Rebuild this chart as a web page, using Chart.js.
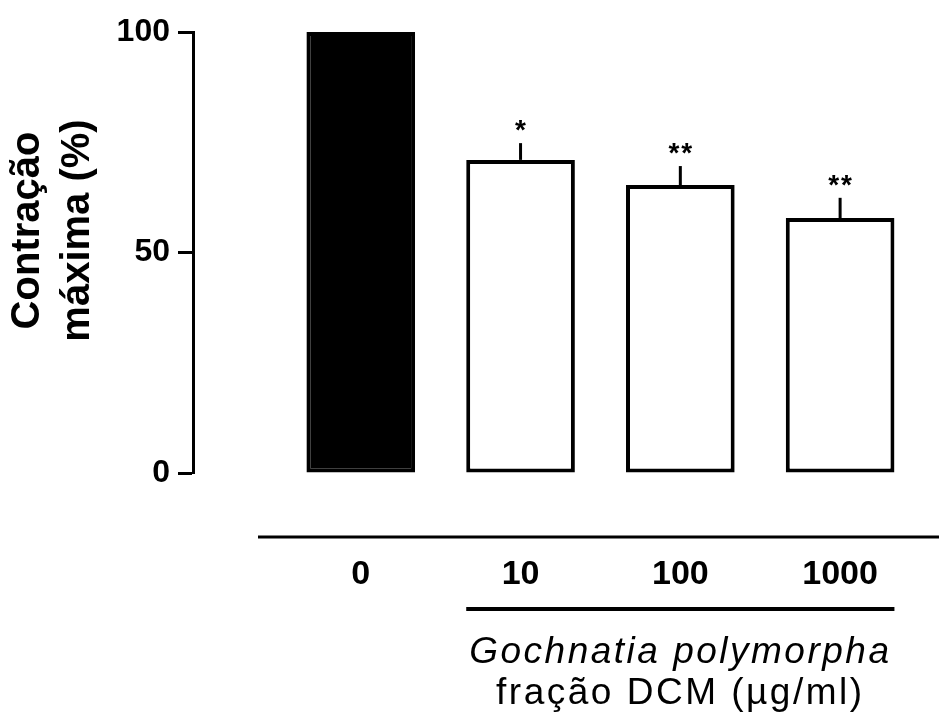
<!DOCTYPE html>
<html>
<head>
<meta charset="utf-8">
<script src="https://cdn.jsdelivr.net/npm/chart.js@4/dist/chart.umd.min.js"></script>
<style>
  html, body { margin: 0; padding: 0; background: #fff; }
  #wrap { width: 939px; height: 720px; }
</style>
</head>
<body>
<div id="wrap"><canvas id="contractionChart" width="939" height="720"></canvas></div>
<script>
// Values
const doseLabels = ['0', '10', '100', '1000'];
const maxContraction = [100, 71.0, 65.3, 57.8];
const semValues = [0, 3.8, 4.3, 4.6];
const significance = ['', '*', '**', '**'];
const barColors = ['#000000', '#ffffff', '#ffffff', '#ffffff'];
const yTitleLines = ['Contração', 'máxima (%)'];
const extractLines = ['Gochnatia polymorpha', 'fração DCM (µg/ml)'];

const FONT = '"Liberation Sans", Arial, sans-serif';

// error bars (upper only) + asterisks
const errorBarsPlugin = {
    id: 'errorBars',
    afterDatasetsDraw(chart) {
        const ctx = chart.ctx;
        const y = chart.scales.y;
        const meta = chart.getDatasetMeta(0);
        ctx.save();
        ctx.strokeStyle = '#000';
        ctx.lineWidth = 3;
        ctx.fillStyle = '#000';
        ctx.font = 'bold 28px ' + FONT;
        ctx.textAlign = 'center';
        ctx.textBaseline = 'alphabetic';
        ctx.letterSpacing = '2px';
        meta.data.forEach((bar, i) => {
            if (!semValues[i]) return;
            const top = y.getPixelForValue(maxContraction[i] + semValues[i]);
            const base = y.getPixelForValue(maxContraction[i]);
            ctx.beginPath();
            ctx.moveTo(bar.x, base);
            ctx.lineTo(bar.x, top);
            ctx.stroke();
            if (significance[i]) ctx.fillText(significance[i], bar.x + 1, top - 4);
        });
        ctx.restore();
    }
};

// y title, bracket lines and the extract caption
const annotationsPlugin = {
    id: 'annotations',
    afterDraw(chart) {
        const ctx = chart.ctx;
        const area = chart.chartArea;
        const meta = chart.getDatasetMeta(0);
        ctx.save();
        ctx.fillStyle = '#000';
        ctx.strokeStyle = '#000';

        // y axis title, two rotated lines
        ctx.save();
        ctx.translate(0, (area.top + area.bottom) / 2 - 22);
        ctx.rotate(-Math.PI / 2);
        ctx.font = 'bold 40px ' + FONT;
        ctx.textAlign = 'center';
        ctx.textBaseline = 'middle';
        yTitleLines.forEach((line, i) => ctx.fillText(line, 0, 28 + i * 50));
        ctx.restore();

        // long line above the dose labels
        ctx.lineWidth = 3;
        ctx.beginPath();
        ctx.moveTo(area.left + 65, area.bottom + 64);
        ctx.lineTo(chart.width, area.bottom + 64);
        ctx.stroke();

        // short line under the extract doses
        const first = meta.data[1];
        const last = meta.data[meta.data.length - 1];
        const x1 = first.x - first.width / 2;
        const x2 = last.x + last.width / 2;
        ctx.lineWidth = 4;
        ctx.beginPath();
        ctx.moveTo(x1, area.bottom + 136);
        ctx.lineTo(x2, area.bottom + 136);
        ctx.stroke();

        // caption
        const cx = (x1 + x2) / 2;
        ctx.textAlign = 'center';
        ctx.textBaseline = 'alphabetic';
        ctx.letterSpacing = '2.5px';
        ctx.font = 'italic 37px ' + FONT;
        ctx.fillText(extractLines[0], cx, area.bottom + 190);
        ctx.font = '37px ' + FONT;
        ctx.fillText(extractLines[1], cx, area.bottom + 231);
        ctx.restore();
    }
};

new Chart(document.getElementById('contractionChart'), {
    type: 'bar',
    data: {
        datasets: [{
            data: maxContraction.map((v, i) => ({ x: i, y: v })),
            backgroundColor: barColors,
            borderColor: '#000000',
            borderWidth: 4,
            borderSkipped: false,
            categoryPercentage: 1,
            barPercentage: 0.68
        }]
    },
    options: {
        responsive: false,
        animation: false,
        layout: { padding: { top: 32, right: 19, bottom: 0, left: 0 } },
        plugins: {
            legend: { display: false },
            tooltip: { enabled: false }
        },
        scales: {
            x: {
                type: 'linear',
                offset: false,
                min: -1.05,
                max: 3.5,
                grid: { display: false, drawTicks: false },
                border: { display: false },
                afterBuildTicks: scale => {
                    scale.ticks = doseLabels.map((_, i) => ({ value: i }));
                },
                afterFit: scale => {
                    scale.height = 247;
                    scale.paddingLeft = 0;
                    scale.paddingRight = 0;
                },
                ticks: {
                    callback: value => doseLabels[value],
                    color: '#000',
                    padding: 81,
                    maxRotation: 0,
                    font: { family: FONT, size: 34, weight: 'bold' }
                }
            },
            y: {
                min: 0,
                max: 100,
                afterFit: scale => { scale.width = 193; },
                grid: {
                    drawOnChartArea: false,
                    color: '#000',
                    tickLength: 15,
                    tickWidth: 3
                },
                border: { display: true, color: '#000', width: 3 },
                ticks: {
                    stepSize: 50,
                    color: '#000',
                    padding: 8,
                    font: { family: FONT, size: 32, weight: 'bold' }
                }
            }
        }
    },
    plugins: [errorBarsPlugin, annotationsPlugin]
});
</script>
</body>
</html>
